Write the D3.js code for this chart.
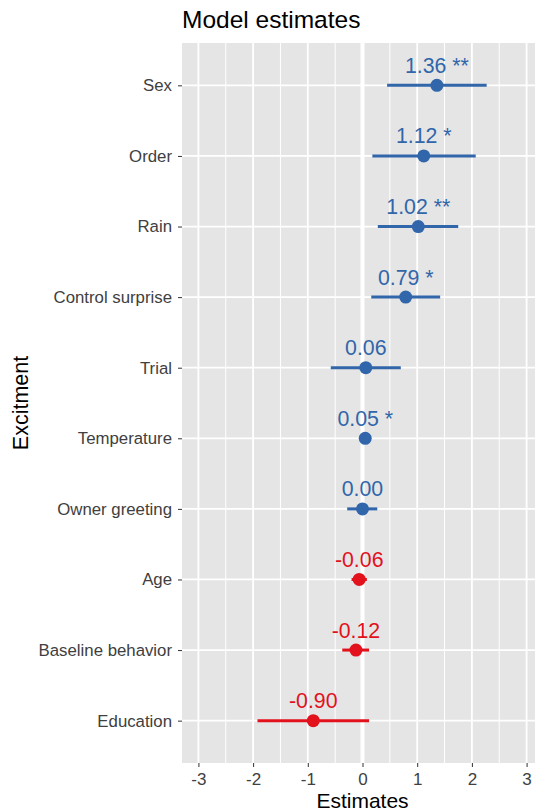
<!DOCTYPE html>
<html>
<head>
<meta charset="utf-8">
<script src="https://cdn.jsdelivr.net/npm/d3@7"></script>
<style>
  body { margin: 0; background: #fff; }
  svg { display: block; font-family: "Liberation Sans", Arial, sans-serif; }
</style>
</head>
<body>
<svg id="chart" width="535" height="812"></svg>
<script>
// terms, top to bottom
const terms = ["Sex", "Order", "Rain", "Control surprise", "Trial", "Temperature",
               "Owner greeting", "Age", "Baseline behavior", "Education"];
const estimates = [1.36, 1.12, 1.02, 0.79, 0.06, 0.05, 0.00, -0.06, -0.12, -0.90];
const ciLow  = [0.45, 0.18, 0.28, 0.16, -0.58, 0.03, -0.28, -0.20, -0.37, -1.92];
const ciHigh = [2.27, 2.07, 1.75, 1.42, 0.70, 0.07, 0.27, 0.08, 0.12, 0.12];
const stars  = ["**", "*", "**", "*", "", "*", "", "", "", ""];
const xTicks = [-3, -2, -1, 0, 1, 2, 3];

const blue = "#3166aa", red = "#e2111c";
const ff = "Liberation Sans, Arial, sans-serif";

let svg = d3.select("#chart");

// panel box (right side runs past the picture edge, like the reference crop)
let pL = 182, pT = 43, pR = 543, pB = 763;

let x = d3.scaleLinear().domain([-3.3, 3.3]).range([pL, pR]);
let y = d3.scalePoint().domain(terms).range([pT, pB]).padding(0.6);

let data = terms.map((t, i) => ({
  term: t, est: estimates[i], lo: ciLow[i], hi: ciHigh[i], star: stars[i]
}));

// panel background
svg.append("rect")
  .attr("x", pL).attr("y", pT)
  .attr("width", pR - pL).attr("height", pB - pT)
  .attr("fill", "#e5e5e5");

// minor grid
let minor = d3.range(-3.5, 3.6, 1);
svg.append("g").selectAll("line")
  .data(minor.filter(v => v > -3.3 && v < 3.3))
  .join("line")
  .attr("x1", d => x(d)).attr("x2", d => x(d))
  .attr("y1", pT).attr("y2", pB)
  .attr("stroke", "#fff").attr("stroke-width", 1);

// major grid
svg.append("g").selectAll("line")
  .data(xTicks)
  .join("line")
  .attr("x1", d => x(d)).attr("x2", d => x(d))
  .attr("y1", pT).attr("y2", pB)
  .attr("stroke", "#fff").attr("stroke-width", d => d === 0 ? 4 : 1.8);

svg.append("g").selectAll("line")
  .data(terms)
  .join("line")
  .attr("x1", pL).attr("x2", pR)
  .attr("y1", d => y(d)).attr("y2", d => y(d))
  .attr("stroke", "#fff").attr("stroke-width", 1.8);

// axes
let xAxis = svg.append("g")
  .attr("transform", `translate(0,${pB})`)
  .call(d3.axisBottom(x).tickValues(xTicks).tickFormat(d => String(d))
    .tickSize(4).tickPadding(6));
xAxis.select(".domain").remove();
xAxis.selectAll("line").attr("stroke", "#333");
xAxis.selectAll("text").attr("font-size", 17).attr("fill", "#404040")
  .attr("font-family", ff);

let yAxis = svg.append("g")
  .attr("transform", `translate(${pL},0)`)
  .call(d3.axisLeft(y).tickSize(4).tickPadding(6));
yAxis.select(".domain").remove();
yAxis.selectAll("line").attr("stroke", "#333");
yAxis.selectAll("text").attr("font-size", 16.8).attr("fill", "#404040")
  .attr("font-family", ff);

// error bars, points, labels
let g = svg.append("g");
g.selectAll("line.ci")
  .data(data)
  .join("line")
  .attr("class", "ci")
  .attr("x1", d => x(d.lo)).attr("x2", d => x(d.hi))
  .attr("y1", d => y(d.term)).attr("y2", d => y(d.term))
  .attr("stroke", d => d.est < 0 ? red : blue)
  .attr("stroke-width", 3);

g.selectAll("circle")
  .data(data)
  .join("circle")
  .attr("cx", d => x(d.est)).attr("cy", d => y(d.term))
  .attr("r", 6.5)
  .attr("fill", d => d.est < 0 ? red : blue);

g.selectAll("text")
  .data(data)
  .join("text")
  .attr("x", d => x(d.est)).attr("y", d => y(d.term) - 12.5)
  .attr("text-anchor", "middle")
  .attr("font-size", 21.3)
  .attr("fill", d => d.est < 0 ? red : blue)
  .text(d => d.est.toFixed(2) + (d.star ? " " + d.star : ""));

// titles
svg.append("text")
  .attr("x", pL).attr("y", 28)
  .attr("font-size", 24.5).attr("fill", "#000")
  .text("Model estimates");

svg.append("text")
  .attr("x", x(0)).attr("y", 808)
  .attr("text-anchor", "middle")
  .attr("font-size", 21).attr("fill", "#000")
  .text("Estimates");

svg.append("text")
  .attr("transform", `translate(28,${(pT + pB) / 2}) rotate(-90)`)
  .attr("text-anchor", "middle")
  .attr("font-size", 21.5).attr("fill", "#000")
  .text("Excitment");
</script>
</body>
</html>
